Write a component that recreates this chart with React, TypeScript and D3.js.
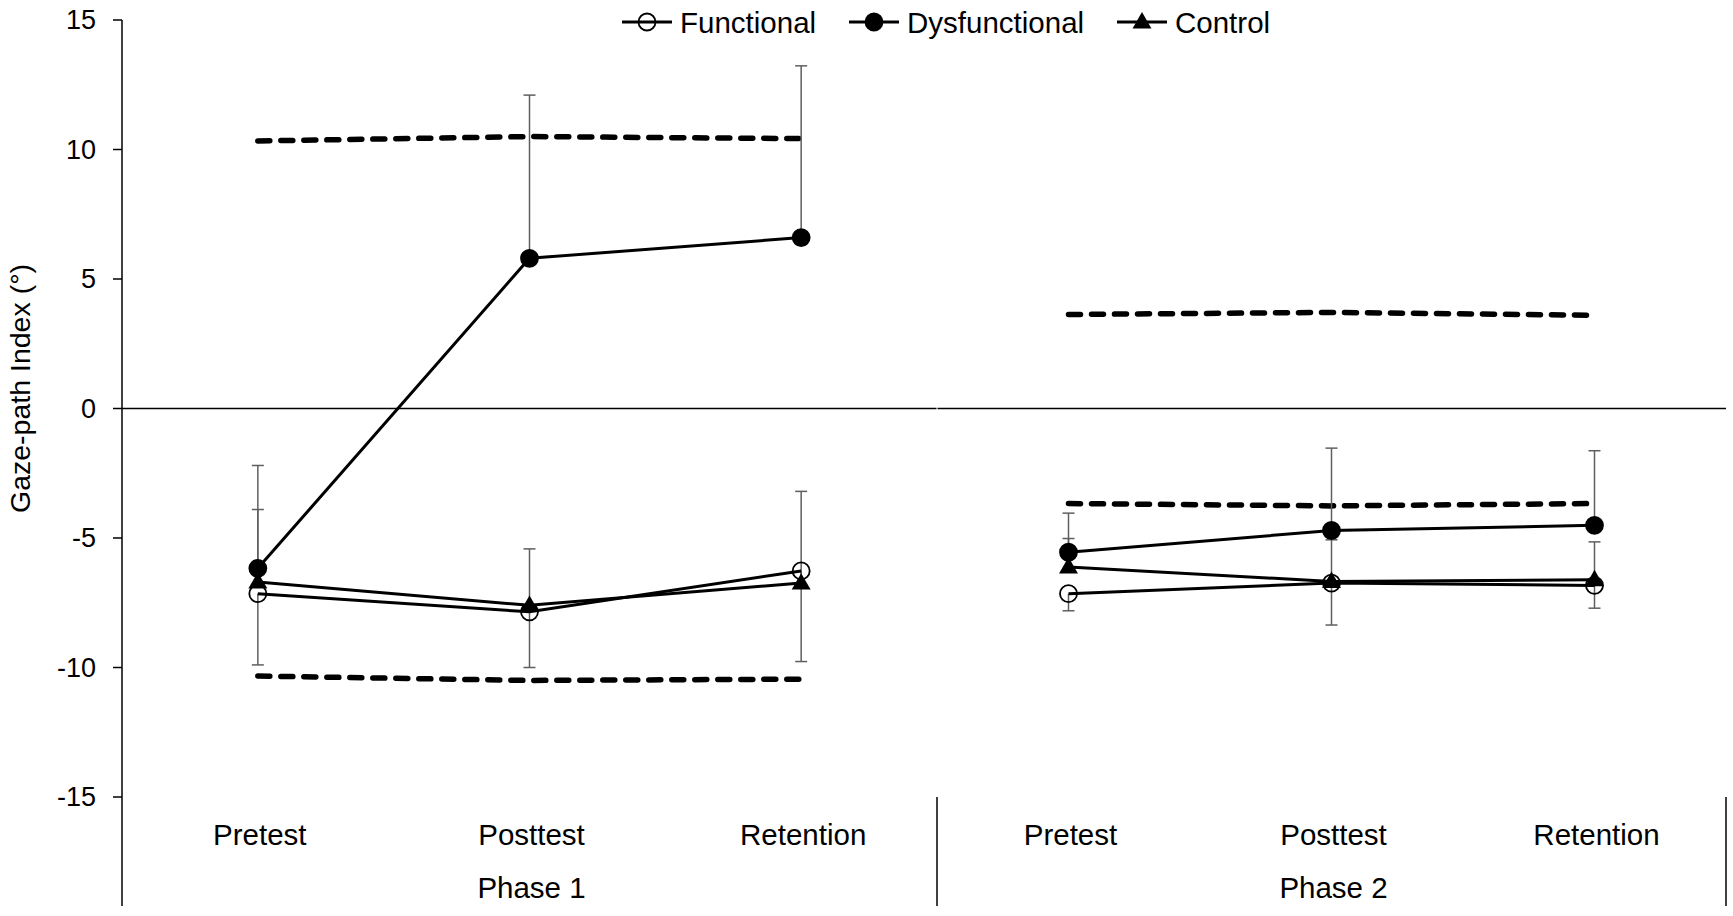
import * as d3 from "d3";
import React from "react";

// categories and phases
const phases = ["Phase 1", "Phase 2"];
const tests = ["Pretest", "Posttest", "Retention"];
const yTicks = [15, 10, 5, 0, -5, -10, -15];

// series means per phase (Pretest, Posttest, Retention)
const functionalP1 = [-7.15, -7.85, -6.27];
const functionalP2 = [-7.15, -6.74, -6.83];
const dysfunctionalP1 = [-6.17, 5.8, 6.6];
const dysfunctionalP2 = [-5.55, -4.71, -4.51];
const controlP1 = [-6.7, -7.6, -6.74];
const controlP2 = [-6.12, -6.68, -6.61];

// one-sided error bars (SD)
const functionalErrP1 = [2.75, 2.15, 3.5];
const functionalErrP2 = [0.66, 1.62, 0.88];
const dysfunctionalErrP1 = [3.97, 6.3, 6.63];
const dysfunctionalErrP2 = [1.51, 3.18, 2.88];
const controlErrP1 = [2.8, 2.18, 3.54];
const controlErrP2 = [1.1, 1.61, 1.46];

// dashed reference bands
const upperBandP1 = [10.33, 10.5, 10.42];
const lowerBandP1 = [-10.33, -10.5, -10.45];
const upperBandP2 = [3.63, 3.71, 3.6];
const lowerBandP2 = [-3.67, -3.76, -3.67];

type Marker = "open" | "filled" | "triangle";

const series = [
  { name: "Functional", marker: "open" as Marker, dir: -1, values: [functionalP1, functionalP2], errs: [functionalErrP1, functionalErrP2] },
  { name: "Dysfunctional", marker: "filled" as Marker, dir: 1, values: [dysfunctionalP1, dysfunctionalP2], errs: [dysfunctionalErrP1, dysfunctionalErrP2] },
  { name: "Control", marker: "triangle" as Marker, dir: 1, values: [controlP1, controlP2], errs: [controlErrP1, controlErrP2] },
];
const bands = [
  [upperBandP1, lowerBandP1],
  [upperBandP2, lowerBandP2],
];

const W = 1733;
const H = 916;
const FONT = "Arial, 'Liberation Sans', sans-serif";

function MarkerShape({ type, x, y }: { type: Marker; x: number; y: number }) {
  if (type === "triangle") {
    const sym = d3.symbol().type(d3.symbolTriangle).size(155)();
    return <path d={sym ?? ""} fill="#000" transform={`translate(${x},${y + 1})`} />;
  }
  return (
    <circle
      cx={x}
      cy={y}
      fill={type === "filled" ? "#000" : "none"}
      r={8.5}
      stroke="#000"
      strokeWidth={1.8}
    />
  );
}

export default function App(): React.ReactElement {
  const left = 122;
  const right = 1726;
  const split = 937;
  const axisBottom = 906;

  const y = d3.scaleLinear().domain([-15, 15]).range([797, 20]);
  const phaseX = [
    d3.scaleBand<string>().domain(tests).range([left, split]),
    d3.scaleBand<string>().domain(tests).range([split, right]),
  ];
  const cx = (p: number, t: string) => (phaseX[p](t) ?? 0) + phaseX[p].bandwidth() / 2;

  const line = (p: number) =>
    d3
      .line<number>()
      .x((_, i) => cx(p, tests[i]))
      .y((d) => y(d));

  const legendItems = [
    { name: "Functional", marker: "open" as Marker, x: 622 },
    { name: "Dysfunctional", marker: "filled" as Marker, x: 849 },
    { name: "Control", marker: "triangle" as Marker, x: 1117 },
  ];

  return (
    <svg
      height={H}
      style={{ background: "#fff", left: 0, position: "fixed", top: 0 }}
      width={W}
    >
      {/* y axis */}
      <line stroke="#000" strokeWidth={1.5} x1={left} x2={left} y1={y(15)} y2={axisBottom} />
      {yTicks.map((t) => (
        <g key={`yt-${t}`}>
          <line stroke="#000" strokeWidth={1.5} x1={left - 9} x2={left} y1={y(t)} y2={y(t)} />
          <text
            dominantBaseline="central"
            fill="#000"
            fontFamily={FONT}
            fontSize={27}
            textAnchor="end"
            x={left - 26}
            y={y(t)}
          >
            {t}
          </text>
        </g>
      ))}
      <text
        fill="#000"
        fontFamily={FONT}
        fontSize={28.5}
        textAnchor="middle"
        transform={`translate(30,${y(0) - 20}) rotate(-90)`}
      >
        Gaze-path Index (°)
      </text>

      {/* zero lines per phase */}
      <line stroke="#000" strokeWidth={1.5} x1={left} x2={split - 0.5} y1={y(0)} y2={y(0)} />
      <line stroke="#000" strokeWidth={1.5} x1={split + 0.5} x2={right} y1={y(0)} y2={y(0)} />

      {/* category axis separators */}
      <line stroke="#000" strokeWidth={1.5} x1={split} x2={split} y1={y(-15)} y2={axisBottom} />
      <line stroke="#000" strokeWidth={1.5} x1={right} x2={right} y1={y(-15)} y2={axisBottom} />

      {phases.map((ph, p) => (
        <g key={ph}>
          {tests.map((t) => (
            <text
              dominantBaseline="central"
              fill="#000"
              fontFamily={FONT}
              fontSize={29.5}
              key={`${ph}-${t}`}
              textAnchor="middle"
              x={cx(p, t) + 2}
              y={834}
            >
              {t}
            </text>
          ))}
          <text
            dominantBaseline="central"
            fill="#000"
            fontFamily={FONT}
            fontSize={29.5}
            textAnchor="middle"
            x={cx(p, tests[1]) + 2}
            y={887}
          >
            {ph}
          </text>

          {/* dashed bands */}
          {bands[p].map((b, i) => (
            <path
              d={line(p)(b) ?? ""}
              fill="none"
              key={`band-${p}-${i}`}
              stroke="#000"
              strokeDasharray="12 11"
              strokeLinecap="round"
              strokeWidth={5.5}
            />
          ))}

          {/* error bars */}
          {series.map((s) =>
            s.values[p].map((v, i) => {
              const x = cx(p, tests[i]);
              const end = y(v + s.dir * s.errs[p][i]);
              return (
                <g key={`err-${s.name}-${p}-${i}`} stroke="#5f5f5f" strokeWidth={1.5}>
                  <line x1={x} x2={x} y1={y(v)} y2={end} />
                  <line x1={x - 6} x2={x + 6} y1={end} y2={end} />
                </g>
              );
            })
          )}

          {/* series lines */}
          {series.map((s) => (
            <path
              d={line(p)(s.values[p]) ?? ""}
              fill="none"
              key={`line-${s.name}-${p}`}
              stroke="#000"
              strokeWidth={3}
            />
          ))}

          {/* markers */}
          {series.map((s) =>
            s.values[p].map((v, i) => (
              <MarkerShape
                key={`m-${s.name}-${p}-${i}`}
                type={s.marker}
                x={cx(p, tests[i])}
                y={y(v)}
              />
            ))
          )}
        </g>
      ))}

      {/* legend */}
      {legendItems.map((l) => (
        <g key={`leg-${l.name}`} transform={`translate(${l.x},22)`}>
          <line stroke="#000" strokeWidth={3} x1={0} x2={50} y1={0} y2={0} />
          <MarkerShape type={l.marker} x={25} y={0} />
          <text
            dominantBaseline="central"
            fill="#000"
            fontFamily={FONT}
            fontSize={29.5}
            x={58}
            y={0}
          >
            {l.name}
          </text>
        </g>
      ))}
    </svg>
  );
}
